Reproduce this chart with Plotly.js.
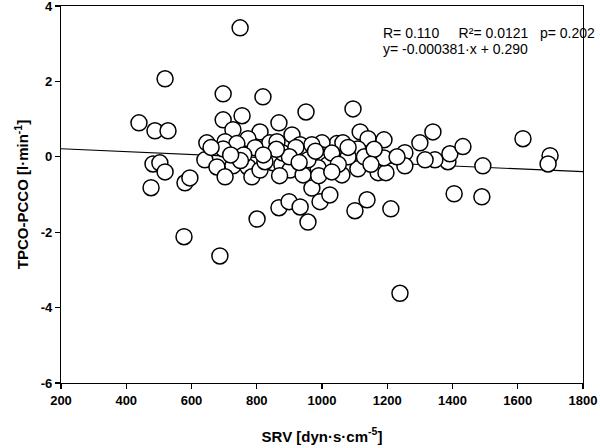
<!DOCTYPE html>
<html>
<head>
<meta charset="utf-8">
<script src="https://cdn.plot.ly/plotly-3.0.1.min.js"></script>
<style>html,body{margin:0;padding:0;background:#fff;}#chart{width:600px;height:448px;}
.xtick text, .ytick text { font-weight: bold !important; }</style>
</head>
<body>
<div id="chart"></div>
<script>
// SRV [dyn·s·cm^-5]
var srv = [
  749, 519, 439, 488, 528, 482, 503, 519, 476, 580, 595, 577,
  687, 801, 868, 899, 933, 957, 969, 994,
  1024, 1101, 1138, 1211, 1239,
  1340, 1386, 1392, 1432, 1493, 1405, 1490, 1616, 1699, 1693, 1346,
  1095, 1117, 1141, 1190, 1110, 1046, 1000, 1064, 1003, 1018, 988, 1061, 1110, 1172, 1196, 1190, 1254, 1254, 1300, 1316,
  951, 697, 819, 697, 755, 868, 727, 810, 908, 647, 703, 773, 739, 840, 862, 795, 697, 933, 942, 641, 678, 727, 773, 703, 785, 850, 877, 902, 942, 810, 825, 969, 957,
  880, 920, 980, 1030, 1080, 1050, 900, 860, 760, 750, 820, 1130, 1160, 990, 1030, 870, 660, 720, 1230, 930, 1080, 1150
];
// TPCO-PCCO [l·min^-1]
var dco = [
  3.42, 2.07, 0.90, 0.69, 0.69, -0.19, -0.16, -0.40, -0.82, -0.69, -0.56, -2.12,
  -2.63, -1.65, -1.35, -1.19, -1.33, -1.73, -0.83, -1.19,
  -1.01, -1.43, -1.14, -1.38, -3.62,
  0.66, -0.13, 0.08, 0.27, -0.24, -0.98, -1.06, 0.48, 0.03, -0.19, -0.08,
  1.27, 0.66, 0.48, 0.45, 0.21, 0.35, 0.37, 0.37, 0.05, -0.21, -0.29, -0.48, -0.32, -0.42, -0.42, -0.03, 0.11, -0.24, 0.37, -0.08,
  1.19, 1.67, 1.59, 0.98, 1.09, 0.90, 0.72, 0.66, 0.58, 0.37, 0.40, 0.48, 0.35, 0.37, 0.40, 0.24, 0.21, 0.32, 0.11, -0.08, -0.27, -0.24, -0.27, -0.53, -0.53, -0.16, -0.21, -0.35, -0.48, -0.35, -0.13, 0.32, -0.08,
  0.10, 0.25, 0.15, 0.10, 0.00, -0.20, 0.00, 0.20, 0.05, -0.10, 0.05, 0.00, 0.20, -0.50, -0.40, -0.50, 0.25, 0.05, 0.00, -0.15, 0.25, -0.20
];
// regression: y = slope*x + intercept
var fitSlope = -0.000381;
var fitIntercept = 0.290;
var fitRange = [200, 1800];
var xTicks = [200, 400, 600, 800, 1000, 1200, 1400, 1600, 1800];
var yTicks = [-6, -4, -2, 0, 2, 4];
var statR = "R= 0.110", statR2 = "R²= 0.0121", statP = "p= 0.202";
var statEq = "y= -0.000381·x + 0.290";

var fitY = fitRange.map(function(x){ return fitSlope * x + fitIntercept; });

var font = "Liberation Sans";
var data = [
  {x: fitRange, y: fitY, mode: 'lines', type: 'scatter', line: {color: '#000', width: 1.2}, hoverinfo: 'skip'},
  {x: srv, y: dco, mode: 'markers', type: 'scatter',
   marker: {symbol: 'circle', size: 16, color: '#fff', line: {color: '#000', width: 1.5}}}
];
var annFont = {family: font, size: 14, color: '#000'};
function b(s){ return '<b>' + s + '</b>'; }
function sp(n){ return new Array(n + 1).join('&nbsp;'); }
var statLine1 = statR + sp(5) + statR2 + sp(3) + statP;
var layout = {
  width: 600, height: 448,
  margin: {l: 61, r: 17, t: 6, b: 65},
  showlegend: false,
  paper_bgcolor: '#fff', plot_bgcolor: '#fff',
  xaxis: {range: [200, 1800], tickvals: xTicks, ticktext: xTicks.map(function(v){return b(v);}),
    showgrid: false, zeroline: false, showline: true, mirror: true, linecolor: '#000', linewidth: 1.2,
    ticks: 'outside', ticklen: 5, tickcolor: '#000', tickwidth: 1.2, ticklabeloverflow: 'allow',
    tickfont: {family: font, size: 13, color: '#000', weight: 700},
    title: {text: b('SRV [dyn·s·cm<sup>-5</sup>]'), font: {family: font, size: 15, color: '#000'}, standoff: 24}},
  yaxis: {range: [-6, 4], tickvals: yTicks, ticktext: yTicks.map(function(v){return b(v);}),
    showgrid: false, zeroline: false, showline: true, mirror: true, linecolor: '#000', linewidth: 1.2,
    ticks: 'outside', ticklen: 5, tickcolor: '#000', tickwidth: 1.2, ticklabeloverflow: 'allow',
    tickfont: {family: font, size: 13, color: '#000', weight: 700},
    title: {text: b('TPCO-PCCO [l·min<sup>-1</sup>]'), font: {family: font, size: 15, color: '#000'}, standoff: 8}},
  annotations: [
    {x: 0.613, y: 0.928, xref: 'paper', yref: 'paper', xanchor: 'left', yanchor: 'middle', align: 'left', text: statLine1, showarrow: false, font: annFont},
    {x: 0.613, y: 0.887, xref: 'paper', yref: 'paper', xanchor: 'left', yanchor: 'middle', align: 'left', text: statEq, showarrow: false, font: annFont}
  ]
};
Plotly.newPlot('chart', data, layout, {displayModeBar: false, staticPlot: true});
</script>
</body>
</html>
